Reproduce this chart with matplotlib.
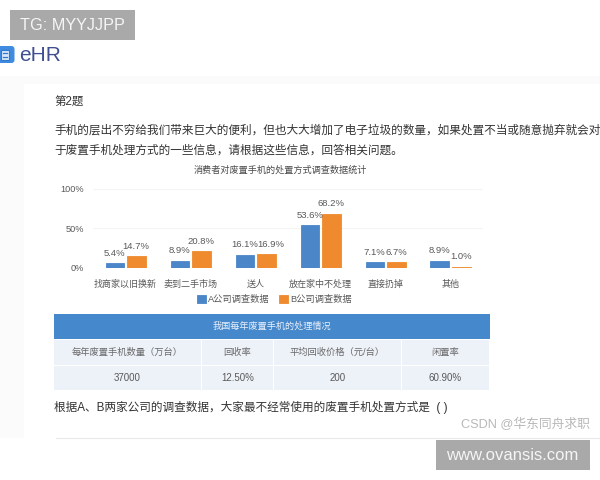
import numpy as np
import matplotlib
matplotlib.use('Agg')
import matplotlib.pyplot as plt
from matplotlib.patches import Rectangle, FancyBboxPatch

plt.rcParams['font.family'] = ['Liberation Sans', 'Noto Sans CJK SC', 'DejaVu Sans']

categories = ['找商家以旧换新', '卖到二手市场', '送人', '放在家中不处理', '直接扔掉', '其他']
company_a = [5.4, 8.9, 16.1, 53.6, 7.1, 8.9]
company_b = [14.7, 20.8, 16.9, 68.2, 6.7, 1.0]
series_names = ['A公司调查数据', 'B公司调查数据']
chart_title = '消费者对废置手机的处置方式调查数据统计'
y_ticks = [0, 50, 100]

table_title = '我国每年废置手机的处理情况'
table_head = ['每年废置手机数量（万台）', '回收率', '平均回收价格（元/台）', '闲置率']
table_row = ['37000', '12.50%', '200', '60.90%']

question_no = '第2题'
line1 = '手机的层出不穷给我们带来巨大的便利，但也大大增加了电子垃圾的数量，如果处置不当或随意抛弃就会对'
line2 = '于废置手机处理方式的一些信息，请根据这些信息，回答相关问题。'
question = '根据A、B两家公司的调查数据，大家最不经常使用的废置手机处置方式是  ( )'

fig = plt.figure(figsize=(6, 4.8), dpi=100)

# page layer in pixel coordinates
bg = fig.add_axes([0, 0, 1, 1])
bg.set_xlim(0, 600)
bg.set_ylim(480, 0)
bg.axis('off')

bg.add_patch(Rectangle((0, 76), 600, 362, fc='#fbfbfb', ec='none'))
bg.add_patch(Rectangle((24, 84), 576, 354, fc='white', ec='none'))
bg.plot([56, 600], [438, 438], color='#e8e8e8', lw=0.8)

# logo
bg.add_patch(FancyBboxPatch((-3, 46), 17.5, 17, boxstyle='round,pad=0,rounding_size=3',
                            fc='#3f8be0', ec='none'))
bg.add_patch(Rectangle((1, 49.5), 8, 10.5, fc='#d6e7f9', ec='#2f78cc', lw=0.8))
bg.plot([3, 7], [53, 53], color='#2f78cc', lw=0.9)
bg.plot([3, 7], [57, 57], color='#2f78cc', lw=0.9)
bg.text(19, 55.5, 'eHR', fontsize=15, color='#3f4f92', va='center')

txt = '#333333'
bg.text(54, 102.5, question_no, fontsize=8.3, color=txt, va='center')
bg.text(54, 131, line1, fontsize=8.4, color=txt, va='center', clip_on=True)
bg.text(54, 150.5, line2, fontsize=8.4, color=txt, va='center')
bg.text(54, 407, question, fontsize=8.4, color=txt, va='center')

# table
col_edges = [54, 201.5, 274, 401.5, 490]
bg.add_patch(Rectangle((54, 314), 436, 25, fc='#4688cc', ec='none'))
bg.text(272, 326.5, table_title, fontsize=6.6, color='#e8f0fa', ha='center', va='center')
for i in range(4):
    x0 = col_edges[i]
    w = col_edges[i + 1] - x0 - 1
    bg.add_patch(Rectangle((x0, 340), w, 24.5, fc='#edf1f8', ec='none'))
    bg.add_patch(Rectangle((x0, 365.5), w, 24.5, fc='#edf1f8', ec='none'))
    cx = x0 + w / 2
    bg.text(cx, 352.5, table_head[i], fontsize=6.7, color='#6a6a6a', ha='center', va='center')
    bg.text(cx, 378, table_row[i], fontsize=7, color='#5a5a5a', ha='center', va='center')

# bar chart, axes placed on the pixel box of the original
ax = fig.add_axes([93 / 600, 1 - 267.7 / 480, 390 / 600, 79 / 480])
ax.patch.set_alpha(0)
x = np.arange(len(categories))
bar_w = 18.5 / 65
off = 10.75 / 65
blue = '#4a86c8'
orange = '#ef8a2e'
ax.bar(x - off, company_a, bar_w, color=blue, ec=blue, lw=0.6, label=series_names[0])
ax.bar(x + off, company_b, bar_w, color=orange, ec=orange, lw=0.6, label=series_names[1])

# 16.9% sits to the right of its bar so it clears 16.1%
nudge_b = {2: 5}
for i in range(len(categories)):
    ax.annotate('{:.1f}%'.format(company_a[i]), (x[i] - off, company_a[i]),
                xytext=(0, 4), textcoords='offset points', fontsize=6.8,
                color='#595959', ha='center', va='bottom')
    ax.annotate('{:.1f}%'.format(company_b[i]), (x[i] + off, company_b[i]),
                xytext=(nudge_b.get(i, 0) * 0.72, 4), textcoords='offset points', fontsize=6.8,
                color='#595959', ha='center', va='bottom')

ax.set_xlim(-0.5, 5.5)
ax.set_ylim(0, 100)
ax.set_yticks(y_ticks)
ax.set_yticklabels(['{}%'.format(t) for t in y_ticks], fontsize=6.6, color='#595959')
ax.set_xticks(x)
ax.set_xticklabels(categories, fontsize=6.5, color='#595959')
ax.tick_params(length=0, pad=8.5)
ax.tick_params(axis='y', pad=6.5)
ax.grid(axis='y', color='#f4f4f4', lw=0.8)
ax.set_axisbelow(True)
for s in ax.spines.values():
    s.set_visible(False)

bg.text(280, 170, chart_title, fontsize=6.6, color='#4a4a4a', ha='center', va='center')
leg = ax.legend(loc='upper center', bbox_to_anchor=(0.466, -0.29), ncol=2, frameon=False,
                fontsize=6.7, handlelength=0.9, handleheight=0.9, handletextpad=0.3,
                columnspacing=1.0, labelcolor='#595959', borderpad=0)

# watermarks, above everything
top = fig.add_axes([0, 0, 1, 1])
top.set_xlim(0, 600)
top.set_ylim(480, 0)
top.axis('off')
top.patch.set_alpha(0)
top.add_patch(Rectangle((10, 10), 125, 30, fc='#a9a9a9', ec='none'))
top.text(20, 25, 'TG: MYYJJPP', fontsize=11.7, color='#f5f5f5', va='center')
top.add_patch(Rectangle((436, 440), 154, 30, fc='#a9a9a9', ec='none'))
top.text(446, 456, 'www.ovansis.com', fontsize=12, color='#f5f5f5', va='center')
top.text(590, 425, 'CSDN @华东同舟求职', fontsize=9.2, color='#b8b8b8', ha='right', va='center')

fig.savefig('out.png', dpi=100)
